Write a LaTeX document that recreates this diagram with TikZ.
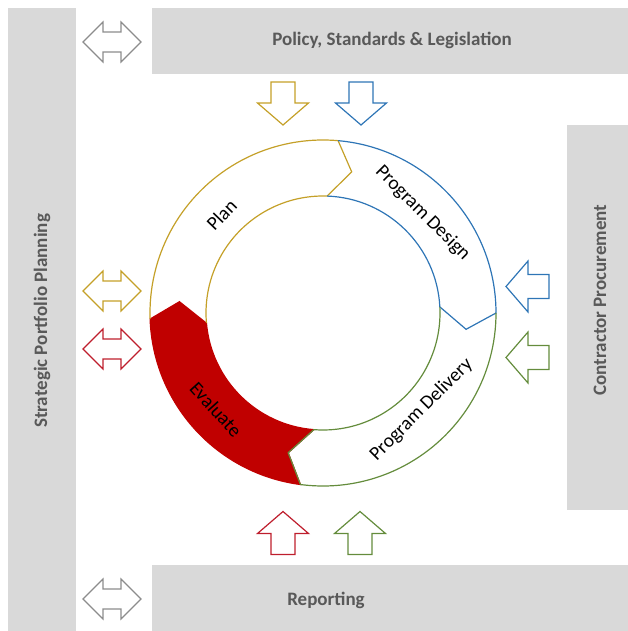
\documentclass[tikz,border=0pt]{standalone}
\usepackage{fontspec}
\setmainfont{Carlito}
\definecolor{barfill}{RGB}{217,217,217}
\definecolor{labelgray}{RGB}{89,89,89}
\definecolor{arrowgray}{RGB}{140,140,140}
\definecolor{plangold}{RGB}{196,160,40}
\definecolor{designblue}{RGB}{46,117,182}
\definecolor{deliverygreen}{RGB}{100,140,60}
\definecolor{evalred}{RGB}{192,0,0}
\definecolor{arrowred}{RGB}{190,30,45}
\tikzset{
  bar/.style={fill=barfill},
  barlabel/.style={text=labelgray, font=\fontsize{19}{22}\selectfont\bfseries},
  ringlabel/.style={font=\fontsize{19.5}{23}\selectfont},
  dblarrow/.pic={
    \draw[line width=1.2pt] (-29,0) -- (-9,20) -- (-9,10) -- (9,10) -- (9,20) -- (29,0)
      -- (9,-20) -- (9,-10) -- (-9,-10) -- (-9,-20) -- cycle;
  },
  blkarrow/.pic={
    \draw[line width=1.2pt] (0,-21.5) -- (25.5,0.5) -- (12,0.5) -- (12,21.5)
      -- (-12,21.5) -- (-12,0.5) -- (-25.5,0.5) -- cycle;
  }
}
\begin{document}
\begin{tikzpicture}[x=1pt,y=1pt]
  \useasboundingbox (0,0) rectangle (628,-631);
  \fill[bar] (8,-8) rectangle (76,-631);
  \fill[bar] (152,-8) rectangle (628,-74);
  \fill[bar] (567,-125) rectangle (628,-510);
  \fill[bar] (152,-565) rectangle (628,-631);

  \node[barlabel] (policy) at (392,-40) {Policy, Standards \& Legislation};
  \node[barlabel] (reporting) at (326,-600) {Reporting};
  \node[barlabel, rotate=90] (strategic) at (42,-321) {Strategic Portfolio Planning};
  \node[barlabel, rotate=90] (contractor) at (600,-300) {Contractor Procurement};

  \begin{scope}[shift={(323,-313)}, line width=1.2pt, line join=miter]
    \filldraw[draw=evalred, fill=evalred]
      (262.5:173) arc[start angle=262.5, end angle=182, radius=173] -- (175.5:144)
      -- (185:117) arc[start angle=185, end angle=265.5, radius=117] -- (256:144) -- cycle;
    \draw[plangold]
      (182:173) arc[start angle=182, end angle=85, radius=173] -- (78.5:144)
      -- (88:117) arc[start angle=88, end angle=185, radius=117];
    \draw[designblue]
      (85:173) arc[start angle=85, end angle=0, radius=173] -- (-6.5:144)
      -- (3:117) arc[start angle=3, end angle=88, radius=117];
    \draw[deliverygreen]
      (0:173) arc[start angle=0, end angle=-97.5, radius=173] -- (-104:144)
      -- (-94.5:117) arc[start angle=-94.5, end angle=3, radius=117];
    \node[ringlabel, rotate=46] (plan) at (136:141) {Plan};
    \node[ringlabel, rotate=-45] (design) at (45:141) {Program Design};
    \node[ringlabel, rotate=45] (delivery) at (-44.5:138) {Program Delivery};
    \node[ringlabel, rotate=-48] (evaluate) at (222:144) {Evaluate};
  \end{scope}

  \pic[arrowgray] at (112,-42) {dblarrow};
  \pic[plangold] at (112,-291) {dblarrow};
  \pic[arrowred] at (112,-349) {dblarrow};
  \pic[arrowgray] at (112,-599) {dblarrow};

  \pic[plangold] at (283,-103.5) {blkarrow};
  \pic[designblue] at (361,-103.5) {blkarrow};
  \pic[designblue, rotate=-90] at (527.5,-286.5) {blkarrow};
  \pic[deliverygreen, rotate=-90] at (527.5,-357.5) {blkarrow};
  \pic[arrowred, rotate=180] at (283,-533) {blkarrow};
  \pic[deliverygreen, rotate=180] at (360,-533) {blkarrow};
\end{tikzpicture}
\end{document}
